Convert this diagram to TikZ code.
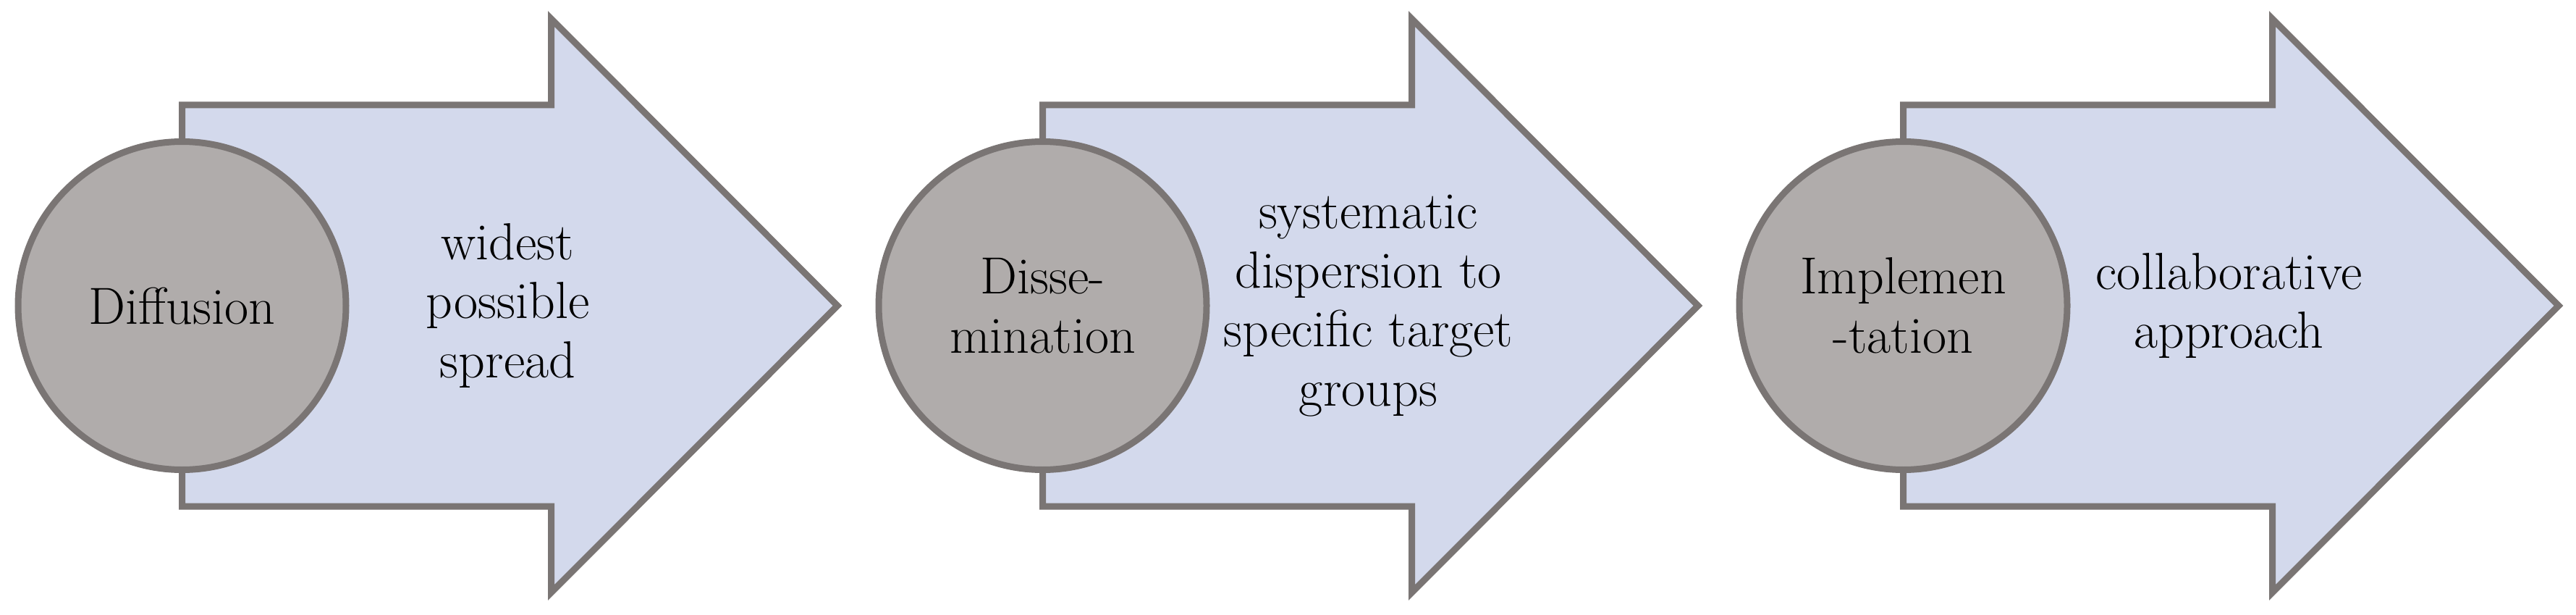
\documentclass[tikz,border=0pt]{standalone}
\usepackage{tikz}

\definecolor{edgegray}{RGB}{122,117,116}
\definecolor{arrowfill}{RGB}{211,217,236}
\definecolor{circlefill}{RGB}{176,172,171}

\begin{document}
\begin{tikzpicture}[
        stagearrow/.style={draw=edgegray, fill=arrowfill, line width=0.09cm},
        stagecircle/.style={circle, draw=edgegray, fill=circlefill, line width=0.09cm,
            minimum size=4.53cm, inner sep=0pt, align=center,
            font=\fontsize{20.5}{23.2}\selectfont},
        stagetext/.style={align=center, inner sep=0pt, font=\fontsize{20.5}{23.2}\selectfont}
    ]
            % Marco
            \useasboundingbox (0,0) rectangle (35.59,8.48);

            % Flechas
            \draw[stagearrow] (2.515,1.49) -- (7.615,1.49) -- (7.615,0.30) -- (11.57,4.26)
                -- (7.615,8.22) -- (7.615,7.03) -- (2.515,7.03) -- cycle;
            \draw[stagearrow] (14.405,1.49) -- (19.505,1.49) -- (19.505,0.30) -- (23.46,4.26)
                -- (19.505,8.22) -- (19.505,7.03) -- (14.405,7.03) -- cycle;
            \draw[stagearrow] (26.295,1.49) -- (31.395,1.49) -- (31.395,0.30) -- (35.35,4.26)
                -- (31.395,8.22) -- (31.395,7.03) -- (26.295,7.03) -- cycle;

            % Circulos
            \node[stagecircle] (diffusion) at (2.515,4.26) {Diffusion};
            \node[stagecircle] (dissem) at (14.405,4.26) {Disse-\\mination};
            \node[stagecircle] (implem) at (26.295,4.26) {Implemen\\-tation};

            % Textos
            \node[stagetext] (spread) at (7.015,4.26) {widest\\possible\\spread};
            \node[stagetext] (dispersion) at (18.905,4.26) {systematic\\dispersion to\\specific target\\groups};
            \node[stagetext] (approach) at (30.795,4.26) {collaborative\\approach};
        \end{tikzpicture}
\end{document}
